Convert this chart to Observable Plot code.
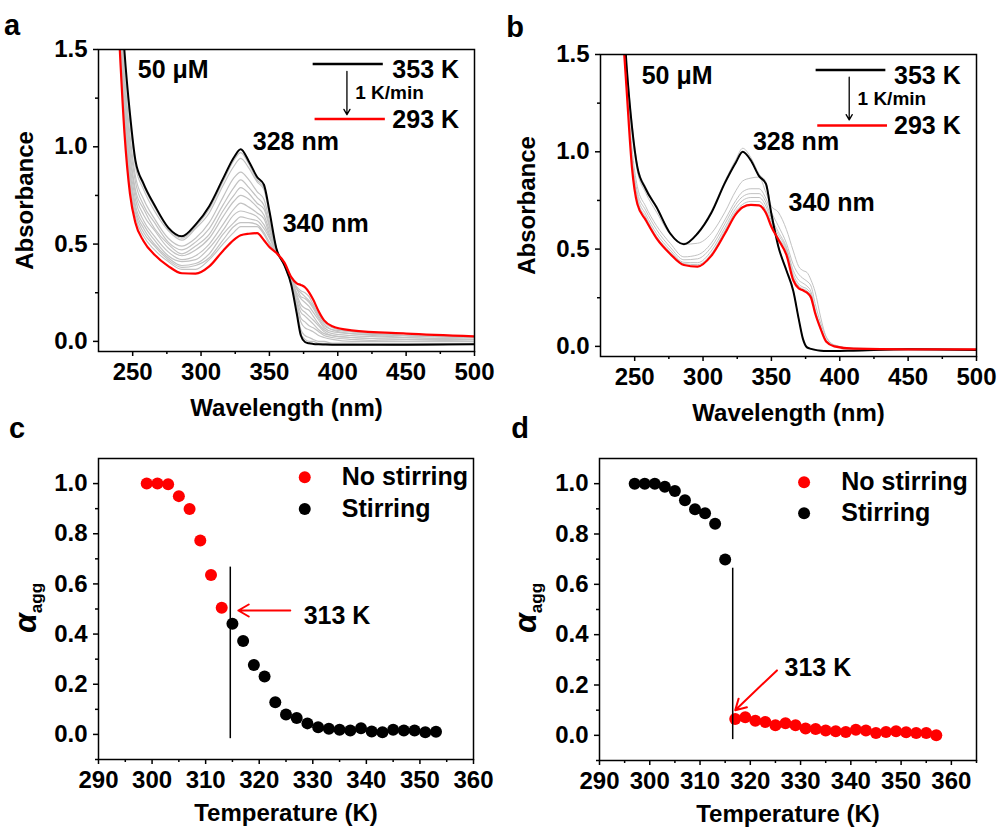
<!DOCTYPE html>
<html><head><meta charset="utf-8">
<script src="https://cdn.jsdelivr.net/npm/d3@7"></script>
<script src="https://cdn.jsdelivr.net/npm/@observablehq/plot@0.6"></script>
<style>
body{margin:0;background:#fff;}
#fig{position:relative;width:1000px;height:827px;background:#fff;overflow:hidden;}
#fig svg{position:absolute;overflow:visible;background:transparent;}
</style></head><body><div id="fig"></div>
<script>
// ---------- data: UV-vis spectra (wavelength grid, nm) ----------
const W = [240,244,248,252,258,266,276,286,296,306,316,324,329,335,341,346,350,355,361,366,370,373,376,379,382,386,390,396,410,450,500];

// panel a: 353 K (black), 293 K (red), intermediate temperatures (grey)
const a353 = [1.95,1.49,1.17,0.93,0.81,0.70,0.585,0.54,0.60,0.695,0.835,0.945,0.988,0.925,0.845,0.805,0.67,0.48,0.39,0.29,0.143,0.03,-0.003,-0.01,-0.013,-0.015,-0.016,-0.017,-0.017,-0.017,-0.015];
const a293 = [1.58,1.07,0.76,0.61,0.515,0.445,0.387,0.35,0.348,0.385,0.465,0.522,0.545,0.553,0.556,0.52,0.485,0.455,0.405,0.33,0.298,0.29,0.278,0.252,0.215,0.155,0.108,0.078,0.057,0.04,0.026];
const aGrey = [
 [1.93,1.47,1.15,0.92,0.80,0.69,0.58,0.53,0.59,0.68,0.82,0.93,0.97,0.91,0.83,0.79,0.66,0.48,0.39,0.29,0.15,0.04,0.01,0.00,0.00,-0.01,-0.01,-0.01,-0.01,-0.02,-0.01],
 [1.91,1.45,1.13,0.90,0.78,0.67,0.57,0.52,0.58,0.66,0.80,0.90,0.94,0.89,0.82,0.78,0.65,0.48,0.39,0.29,0.16,0.06,0.03,0.02,0.01,0.00,0.00,-0.01,-0.01,-0.01,-0.01],
 [1.85,1.38,1.06,0.85,0.73,0.63,0.53,0.49,0.53,0.61,0.74,0.84,0.87,0.83,0.77,0.73,0.62,0.47,0.39,0.30,0.18,0.10,0.07,0.06,0.05,0.03,0.02,0.01,0.00,0.00,0.00],
 [1.82,1.34,1.02,0.82,0.70,0.61,0.51,0.47,0.51,0.58,0.70,0.79,0.83,0.79,0.74,0.70,0.60,0.47,0.40,0.30,0.20,0.12,0.10,0.08,0.07,0.05,0.03,0.02,0.01,0.00,0.00],
 [1.78,1.30,0.98,0.78,0.68,0.58,0.50,0.45,0.49,0.55,0.67,0.75,0.79,0.76,0.71,0.68,0.59,0.47,0.40,0.31,0.21,0.15,0.13,0.11,0.09,0.06,0.04,0.03,0.02,0.01,0.00],
 [1.75,1.27,0.95,0.76,0.65,0.57,0.48,0.44,0.47,0.53,0.64,0.72,0.75,0.73,0.69,0.65,0.57,0.47,0.40,0.31,0.23,0.17,0.15,0.13,0.11,0.08,0.05,0.03,0.02,0.01,0.01],
 [1.72,1.23,0.91,0.73,0.62,0.54,0.46,0.42,0.44,0.50,0.60,0.68,0.71,0.69,0.66,0.63,0.55,0.46,0.40,0.32,0.24,0.19,0.17,0.16,0.13,0.09,0.06,0.04,0.03,0.02,0.01],
 [1.69,1.19,0.88,0.70,0.60,0.52,0.44,0.41,0.42,0.48,0.57,0.65,0.67,0.66,0.64,0.60,0.54,0.46,0.40,0.32,0.25,0.22,0.20,0.18,0.15,0.11,0.07,0.05,0.04,0.02,0.01],
 [1.66,1.16,0.85,0.68,0.58,0.50,0.43,0.39,0.40,0.45,0.55,0.61,0.64,0.63,0.62,0.58,0.53,0.46,0.40,0.32,0.27,0.23,0.22,0.20,0.17,0.12,0.08,0.06,0.04,0.03,0.02],
 [1.64,1.14,0.82,0.66,0.56,0.49,0.42,0.38,0.39,0.43,0.52,0.59,0.61,0.61,0.60,0.56,0.51,0.46,0.40,0.32,0.27,0.25,0.23,0.21,0.18,0.13,0.09,0.06,0.05,0.03,0.02],
 [1.62,1.11,0.80,0.64,0.54,0.47,0.41,0.37,0.37,0.42,0.50,0.56,0.59,0.59,0.59,0.55,0.50,0.46,0.40,0.33,0.28,0.26,0.25,0.23,0.19,0.14,0.10,0.07,0.05,0.03,0.02]
];

// panel b
const b353 = [1.9,1.45,1.13,0.92,0.81,0.715,0.58,0.525,0.58,0.685,0.84,0.945,1.0,0.955,0.875,0.835,0.68,0.515,0.39,0.285,0.14,0.04,-0.005,-0.013,-0.018,-0.022,-0.024,-0.024,-0.022,-0.015,-0.019];
const b293 = [1.75,1.33,0.92,0.73,0.65,0.555,0.475,0.418,0.41,0.465,0.58,0.68,0.715,0.727,0.725,0.685,0.615,0.55,0.47,0.34,0.298,0.288,0.276,0.25,0.17,0.09,0.025,0.0,-0.012,-0.015,-0.015];
const bGrey = [
 [1.92,1.47,1.15,0.93,0.82,0.72,0.585,0.53,0.585,0.695,0.85,0.96,1.018,0.97,0.885,0.845,0.69,0.52,0.395,0.29,0.14,0.045,0.0,-0.01,-0.015,-0.02,-0.021,-0.021,-0.02,-0.013,-0.017],
 [1.85,1.42,1.10,0.90,0.79,0.69,0.575,0.525,0.53,0.58,0.69,0.80,0.85,0.865,0.87,0.79,0.72,0.69,0.60,0.49,0.41,0.39,0.38,0.34,0.28,0.15,0.05,0.005,-0.01,-0.012,-0.015],
 [1.8,1.38,1.02,0.82,0.72,0.62,0.53,0.46,0.47,0.53,0.65,0.75,0.795,0.81,0.81,0.76,0.69,0.62,0.53,0.42,0.37,0.35,0.335,0.31,0.22,0.12,0.05,0.008,-0.01,-0.013,-0.015],
 [1.78,1.36,0.98,0.79,0.70,0.60,0.51,0.445,0.45,0.51,0.63,0.73,0.77,0.785,0.785,0.74,0.66,0.59,0.51,0.39,0.34,0.325,0.31,0.28,0.19,0.10,0.035,0.003,-0.01,-0.014,-0.015],
 [1.77,1.35,0.96,0.77,0.68,0.58,0.495,0.432,0.43,0.49,0.61,0.71,0.75,0.765,0.765,0.72,0.645,0.575,0.50,0.37,0.32,0.305,0.295,0.265,0.18,0.095,0.03,0.002,-0.011,-0.014,-0.015],
 [1.76,1.34,0.94,0.75,0.665,0.565,0.485,0.425,0.42,0.475,0.595,0.695,0.73,0.745,0.745,0.70,0.63,0.56,0.49,0.355,0.31,0.295,0.285,0.255,0.17,0.088,0.028,0.001,-0.012,-0.015,-0.015]
];

// panel c: alpha_agg vs temperature
const cTempNo = [299,301,303,305,307,309,311,313];
const cAlphaNo = [1.0,1.0,0.997,0.95,0.899,0.773,0.636,0.505];
const cTempSt = [315,317,319,321,323,325,327,329,331,333,335,337,339,341,343,345,347,349,351,353];
const cAlphaSt = [0.441,0.372,0.277,0.231,0.128,0.079,0.065,0.044,0.029,0.023,0.019,0.016,0.025,0.012,0.009,0.019,0.016,0.016,0.009,0.011];

// panel d
const dTempSt = [297,299,301,303,305,307,309,311,313,315];
const dAlphaSt = [1.0,1.0,1.0,0.988,0.971,0.934,0.898,0.882,0.841,0.699];
const dTempNo = [317,319,321,323,325,327,329,331,333,335,337,339,341,343,345,347,349,351,353,355,357];
const dAlphaNo = [0.065,0.072,0.058,0.053,0.040,0.048,0.040,0.027,0.025,0.019,0.016,0.013,0.022,0.019,0.009,0.013,0.016,0.012,0.009,0.009,0.0];

// tick values
const specXMajor = [250,300,350,400,450,500];
const specXMinor = [275,325,375,425,475];
const specYMajor = [0,0.5,1.0,1.5];
const specYMinor = [0.25,0.75,1.25];
const tXMajor = [290,300,310,320,330,340,350,360];
const tXMinorC = [295,305,315,325,335,345,355];
const tXMinorD = [295,305,315,325,335,345,355,365];
const aYMajor = [0,0.2,0.4,0.6,0.8,1.0];
const aYMinor = [-0.1,0.1,0.3,0.5,0.7,0.9];

// annotations
const annA = [{x:253.7,y:1.397,t:"50 μM"},{x:337.8,y:1.027,t:"328 nm"},{x:359.7,y:0.603,t:"340 nm"},{x:439.9,y:1.397,t:"353 K"},{x:439.9,y:1.139,t:"293 K"}];
const rateA = [{x:412.8,y:1.277,t:"1 K/min"}];
const legBlackA = [{x1:382,x2:433.3,y:1.426}];
const legRedA = [{x1:383.4,x2:434.8,y:1.143}];
const arrA = [{x:406.7,y1:1.388,y2:1.165}];
const annB = [{x:255.1,y:1.39,t:"50 μM"},{x:336.5,y:1.048,t:"328 nm"},{x:362.5,y:0.737,t:"340 nm"},{x:439.7,y:1.39,t:"353 K"},{x:439.7,y:1.133,t:"293 K"}];
const rateB = [{x:413,y:1.27,t:"1 K/min"}];
const legBlackB = [{x1:382.7,x2:433.7,y:1.42}];
const legRedB = [{x1:383.9,x2:434.9,y:1.135}];
const arrB = [{x:406.9,y1:1.383,y2:1.164}];

const vlineC = [{x:314.6,y1:0.667,y2:-0.017}];
const arrowC = [{x1:325.8,y1:0.494,x2:316.1,y2:0.494}];
const labC = [{x:328.3,y:0.474,t:"313 K"}];
const legC = [{x:328.5,y:1.025,c:"red",t:"No stirring"},{x:328.5,y:0.899,c:"black",t:"Stirring"}];
const legTxtXC = 335.4;
const vlineD = [{x:316.5,y1:0.664,y2:-0.017}];
const arrowD = [{x1:325.3,y1:0.258,x2:317.0,y2:0.1}];
const labD = [{x:326.8,y:0.268,t:"313 K"}];
const legD = [{x:330.7,y:1.006,c:"red",t:"No stirring"},{x:330.7,y:0.882,c:"black",t:"Stirring"}];
const legTxtXD = 338.1;

// ---------- drawing ----------
const FF = '"Liberation Sans", Arial, Helvetica, sans-serif';
const RED = "#ff0000";
const fig = document.getElementById("fig");
const rows = (vals, s) => W.map((w, i) => ({w, a: vals[i], s}));
const baseStyle = {fontFamily: FF, fontSize: "24px", fontWeight: "bold", color: "black", background: "transparent", overflow: "visible"};

function place(svg, left, top, letter, lx, ly) {
  svg.style.left = left + "px"; svg.style.top = top + "px";
  d3.select(svg).append("text").attr("x", lx).attr("y", ly)
    .attr("font-family", FF).attr("font-size", 29).attr("font-weight", "bold").attr("fill", "black").text(letter);
  fig.appendChild(svg);
}

function spectrum(black, red, greys, ann, rate, legB, legR, arr, m, greyW) {
  const greyRows = greys.flatMap((g, k) => rows(g, "g" + k));
  return Plot.plot({
    width: 500, height: 430,
    marginTop: m.t, marginLeft: m.l, marginRight: m.r, marginBottom: m.b,
    x: {domain: [225, 500]}, y: {domain: [-0.052, 1.5]},
    style: baseStyle,
    marks: [
      Plot.line(greyRows, {x: "w", y: "a", z: "s", stroke: "#c2c2c2", strokeWidth: greyW, curve: "monotone-x", clip: true}),
      Plot.line(rows(black, "k"), {x: "w", y: "a", stroke: "#000", strokeWidth: 2, curve: "monotone-x", clip: true}),
      Plot.line(rows(red, "r"), {x: "w", y: "a", stroke: RED, strokeWidth: 2.2, curve: "monotone-x", clip: true}),
      Plot.frame({strokeWidth: 1.5}),
      Plot.axisX({ticks: specXMajor, tickSize: 5, tickPadding: 6, label: null, strokeWidth: 1.5}),
      Plot.axisX({ticks: specXMinor, tickSize: 3, tickFormat: () => "", label: null, strokeWidth: 1.5}),
      Plot.axisY({ticks: specYMajor, tickSize: 5, tickPadding: 6, label: null, strokeWidth: 1.5, tickFormat: d => d.toFixed(1)}),
      Plot.axisY({ticks: specYMinor, tickSize: 3, tickFormat: () => "", label: null, strokeWidth: 1.5}),
      Plot.text(["Wavelength (nm)"], {frameAnchor: "bottom", dy: 47, lineAnchor: "top", fontSize: 24, fontWeight: "bold"}),
      Plot.text(["Absorbance"], {frameAnchor: "left", textAnchor: "middle", dx: -73, rotate: -90, fontSize: 24, fontWeight: "bold"}),
      Plot.text(ann, {x: "x", y: "y", text: "t", textAnchor: "start", fontSize: 25, fontWeight: "bold"}),
      Plot.text(rate, {x: "x", y: "y", text: "t", textAnchor: "start", fontSize: 19, fontWeight: "bold"}),
      Plot.ruleY(legB, {y: "y", x1: "x1", x2: "x2", stroke: "#000", strokeWidth: 2.5}),
      Plot.ruleY(legR, {y: "y", x1: "x1", x2: "x2", stroke: RED, strokeWidth: 2.5}),
      Plot.arrow(arr, {x1: "x", x2: "x", y1: "y1", y2: "y2", stroke: "#000", strokeWidth: 1.3, headLength: 7})
    ]
  });
}

function alphaPlot(xdom, minorX, redT, redA, blkT, blkA, vline, arrow, lab, leg, legX, m) {
  return Plot.plot({
    width: 500, height: 417,
    marginTop: m.t, marginLeft: m.l, marginRight: m.r, marginBottom: m.b,
    x: {domain: xdom}, y: {domain: [-0.1, 1.1]},
    style: baseStyle,
    marks: [
      Plot.frame({strokeWidth: 1.5}),
      Plot.axisX({ticks: tXMajor, tickSize: 5, tickPadding: 6, label: null, strokeWidth: 1.5}),
      Plot.axisX({ticks: minorX, tickSize: 3, tickFormat: () => "", label: null, strokeWidth: 1.5}),
      Plot.axisY({ticks: aYMajor, tickSize: 5, tickPadding: 6, label: null, strokeWidth: 1.5, tickFormat: d => d.toFixed(1)}),
      Plot.axisY({ticks: aYMinor, tickSize: 3, tickFormat: () => "", label: null, strokeWidth: 1.5}),
      Plot.dot(redT.map((t, i) => ({t, a: redA[i]})), {x: "t", y: "a", r: 6, fill: RED}),
      Plot.dot(blkT.map((t, i) => ({t, a: blkA[i]})), {x: "t", y: "a", r: 6, fill: "#000"}),
      Plot.ruleX(vline, {x: "x", y1: "y1", y2: "y2", stroke: "#000", strokeWidth: 1.5}),
      Plot.arrow(arrow, {x1: "x1", y1: "y1", x2: "x2", y2: "y2", stroke: RED, strokeWidth: 2, headLength: 9}),
      Plot.text(lab, {x: "x", y: "y", text: "t", textAnchor: "start", fontSize: 25, fontWeight: "bold"}),
      Plot.dot(leg.filter(d => d.c === "red"), {x: "x", y: "y", r: 6, fill: RED}),
      Plot.dot(leg.filter(d => d.c === "black"), {x: "x", y: "y", r: 6, fill: "#000"}),
      Plot.text(leg, {x: () => legX, y: "y", text: "t", textAnchor: "start", fontSize: 25, fontWeight: "bold"}),
      Plot.text(["Temperature (K)"], {frameAnchor: "bottom", dy: 44, lineAnchor: "top", fontSize: 24, fontWeight: "bold"})
    ]
  });
}

function alphaLabel(svg, x, y) {
  const t = d3.select(svg).append("text")
    .attr("transform", `translate(${x},${y}) rotate(-90)`)
    .attr("text-anchor", "middle").attr("font-family", FF).attr("fill", "black");
  t.append("tspan").attr("font-size", 32).attr("font-weight", "bold").attr("font-style", "italic").text("α");
  t.append("tspan").attr("font-size", 17).attr("font-weight", "bold").attr("dy", 6).text("agg");
}

const pa = spectrum(a353, a293, aGrey, annA, rateA, legBlackA, legRedA, arrA, {t: 49, l: 98, r: 26, b: 79}, 1.2);
place(pa, 0, 0, "a", 12, 35);
const pb = spectrum(b353, b293, bGrey, annB, rateB, legBlackB, legRedB, arrB, {t: 54, l: 100, r: 24, b: 74}, 1);
place(pb, 500, 0, "b", 15, 37);

const pc = alphaPlot([290, 360], tXMinorC, cTempNo, cAlphaNo, cTempSt, cAlphaSt, vlineC, arrowC, labC, legC, legTxtXC, {t: 48, l: 98, r: 27, b: 68});
alphaLabel(pc, 36, 198);
place(pc, 0, 410, "c", 17, 28);
const pd = alphaPlot([290, 365], tXMinorD, dTempNo, dAlphaNo, dTempSt, dAlphaSt, vlineD, arrowD, labD, legD, legTxtXD, {t: 48, l: 99, r: 24, b: 67});
alphaLabel(pd, 36, 198);
place(pd, 500, 410, "d", 20, 28);
</script></body></html>
